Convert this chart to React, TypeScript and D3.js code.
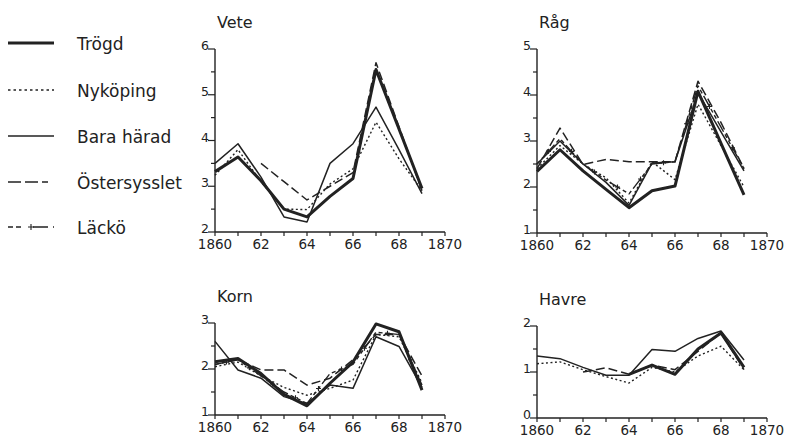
import React from "react";
import * as d3 from "d3";

const years = [1860, 1861, 1862, 1863, 1864, 1865, 1866, 1867, 1868, 1869];
const seriesNames = ["Trögd", "Nyköping", "Bara härad", "Östersysslet", "Läckö"];
const xTickLabels = ["1860", "62", "64", "66", "68", "1870"];

type V = number | null;
// Vete
const veteTrogd: V[] = [3.32, 3.64, 3.12, 2.5, 2.33, 2.78, 3.17, 5.55, 4.25, 2.95];
const veteNykoping: V[] = [3.24, 3.8, 3.1, 2.5, 2.49, 3.05, 3.38, 4.4, 3.6, 2.9];
const veteBara: V[] = [3.5, 3.93, 3.2, 2.33, 2.22, 3.5, 3.93, 4.73, 3.8, 2.84];
const veteOster: V[] = [null, null, 3.5, 3.1, 2.7, 3.0, 3.3, 5.7, 4.3, 2.9];
const veteLacko: V[] = [null, null, null, null, null, null, null, null, null, null];
// Råg
const ragTrogd: V[] = [2.34, 2.81, 2.35, 1.95, 1.55, 1.92, 2.02, 4.08, 2.95, 1.83];
const ragNykoping: V[] = [2.4, 2.9, 2.5, 2.2, 1.65, 2.55, 2.16, 3.8, 2.9, 2.0];
const ragBara: V[] = [2.5, 3.0, 2.5, 2.1, 1.6, 2.52, 2.55, 4.05, 3.2, 2.35];
const ragOster: V[] = [2.4, 3.28, 2.49, 2.6, 2.55, 2.55, 2.55, 4.3, 3.4, 2.4];
const ragLacko: V[] = [2.5, 3.05, 2.5, 2.15, 1.85, 2.5, 2.55, 4.2, 3.3, 2.4];
// Korn
const kornTrogd: V[] = [2.16, 2.23, 1.9, 1.45, 1.2, 1.69, 2.15, 2.98, 2.81, 1.54];
const kornNykoping: V[] = [2.05, 2.15, 1.85, 1.6, 1.43, 1.58, 1.76, 2.75, 2.7, 1.7];
const kornBara: V[] = [2.6, 1.98, 1.8, 1.4, 1.25, 1.65, 1.58, 2.7, 2.49, 1.6];
const kornOster: V[] = [2.1, 2.2, 1.98, 1.98, 1.65, 1.8, 2.2, 2.75, 2.75, 1.85];
const kornLacko: V[] = [2.1, 2.2, 1.85, 1.5, 1.25, 1.9, 2.1, 2.8, 2.75, 1.65];
// Havre
const havreTrogd: V[] = [null, null, null, null, 0.95, 1.15, 0.95, 1.5, 1.85, 1.1];
const havreNykoping: V[] = [1.18, 1.22, 1.05, 0.9, 0.76, 1.1, 1.0, 1.35, 1.56, 1.05];
const havreBara: V[] = [1.35, 1.29, 1.1, 0.93, 0.93, 1.49, 1.45, 1.73, 1.89, 1.26];
const havreOster: V[] = [null, null, 1.0, 1.09, 0.95, 1.15, 1.05, 1.45, 1.85, 1.05];
const havreLacko: V[] = [null, null, null, null, null, null, null, null, null, null];

const INK = "#222";
const FONT = "'DejaVu Sans', sans-serif";

const styles = [
  { w: 3, dash: "" },
  { w: 1.4, dash: "2,2.5" },
  { w: 1.5, dash: "" },
  { w: 1.5, dash: "9,4" },
  { w: 1.4, dash: "4,3,4,3,12,3" },
];

type Panel = {
  title: string;
  left: number;
  right: number;
  yDomain: [number, number];
  yRange: [number, number];
  yTicks: number[];
  series: V[][];
};

const panels: Panel[] = [
  { title: "Vete", left: 215, right: 445, yDomain: [2, 6], yRange: [232, 49], yTicks: [2, 3, 4, 5, 6], series: [veteTrogd, veteNykoping, veteBara, veteOster, veteLacko] },
  { title: "Råg", left: 537, right: 767, yDomain: [1, 5], yRange: [233, 49], yTicks: [1, 2, 3, 4, 5], series: [ragTrogd, ragNykoping, ragBara, ragOster, ragLacko] },
  { title: "Korn", left: 215, right: 445, yDomain: [1, 3], yRange: [415, 323], yTicks: [1, 2, 3], series: [kornTrogd, kornNykoping, kornBara, kornOster, kornLacko] },
  { title: "Havre", left: 537, right: 767, yDomain: [0, 2], yRange: [418, 326], yTicks: [0, 1, 2], series: [havreTrogd, havreNykoping, havreBara, havreOster, havreLacko] },
];

function PanelView({ p }: { p: Panel }) {
  const x = d3.scaleLinear().domain([1860, 1870]).range([p.left, p.right]);
  const y = d3.scaleLinear().domain(p.yDomain).range(p.yRange);
  const y0 = p.yRange[0];
  const line = d3
    .line<V>()
    .defined((d) => d !== null)
    .x((_, i) => x(years[i]))
    .y((d) => y(d as number));
  const minor = d3.range(p.yDomain[0] + 0.5, p.yDomain[1], 1);
  const allYears = d3.range(1860, 1871);
  return (
    <g>
      <text x={p.left + 2} y={p.yRange[1] - 21} fontSize={16} fontFamily={FONT} fill={INK}>
        {p.title}
      </text>
      <line x1={p.left} x2={p.left} y1={y0} y2={p.yRange[1]} stroke={INK} strokeWidth={1.4} />
      <line x1={p.left} x2={p.right} y1={y0} y2={y0} stroke={INK} strokeWidth={1.4} />
      {p.yTicks.map((t) => (
        <g key={t}>
          <line x1={p.left - 7} x2={p.left} y1={y(t)} y2={y(t)} stroke={INK} strokeWidth={1.2} />
          <text x={p.left - 6} y={y(t) + 1} textAnchor="end" fontSize={12.5} fontFamily={FONT} fill={INK}>
            {t}
          </text>
        </g>
      ))}
      {minor.map((t) => (
        <line key={t} x1={p.left - 4} x2={p.left} y1={y(t)} y2={y(t)} stroke={INK} strokeWidth={1.2} />
      ))}
      {allYears.map((yr) => (
        <line key={yr} x1={x(yr)} x2={x(yr)} y1={y0} y2={y0 + 4} stroke={INK} strokeWidth={1.2} />
      ))}
      {xTickLabels.map((lbl, i) => (
        <text key={lbl} x={x(1860 + 2 * i)} y={y0 + 17} textAnchor="middle" fontSize={13.5} fontFamily={FONT} fill={INK}>
          {lbl}
        </text>
      ))}
      {p.series.map((s, si) => (
        <path
          key={si}
          d={line(s) || ""}
          fill="none"
          stroke={INK}
          strokeWidth={styles[si].w}
          strokeDasharray={styles[si].dash}
          strokeLinejoin="round"
        />
      ))}
      {p.series[4].map((v, i) => {
        if (i === 0 || v === null || p.series[4][i - 1] === null) return null;
        const mx = (x(years[i]) + x(years[i - 1])) / 2;
        const my = (y(v) + y(p.series[4][i - 1] as number)) / 2;
        return (
          <path key={"p" + i} d={`M${mx - 2.5},${my}H${mx + 2.5}M${mx},${my - 2.5}V${my + 2.5}`} stroke={INK} strokeWidth={1.1} />
        );
      })}
    </g>
  );
}

export default function App() {
  const legendY = [43, 90, 136, 182, 227];
  return (
    <svg width={788} height={442} style={{ position: "absolute", left: 0, top: 0, background: "#fff" }}>
      <rect width={788} height={442} fill="#fff" />
      {seriesNames.map((name, i) => (
        <g key={name}>
          {i < 4 ? (
            <line x1={8} x2={54} y1={legendY[i]} y2={legendY[i]} stroke={INK} strokeWidth={styles[i].w} strokeDasharray={i === 1 ? "2.5,3" : i === 3 ? "13,4,13,4,6" : ""} />
          ) : (
            <g>
              <line x1={8} x2={54} y1={legendY[i]} y2={legendY[i]} stroke={INK} strokeWidth={1.4} strokeDasharray="5,3,5,12,15" />
              <path d={`M${31},${legendY[i] - 3}V${legendY[i] + 3}M${28},${legendY[i]}H${34}`} stroke={INK} strokeWidth={1.1} />
            </g>
          )}
          <text x={77} y={legendY[i] + 7} fontSize={17} fontFamily={FONT} fill={INK}>
            {name}
          </text>
        </g>
      ))}
      {panels.map((p) => (
        <PanelView key={p.title} p={p} />
      ))}
    </svg>
  );
}
